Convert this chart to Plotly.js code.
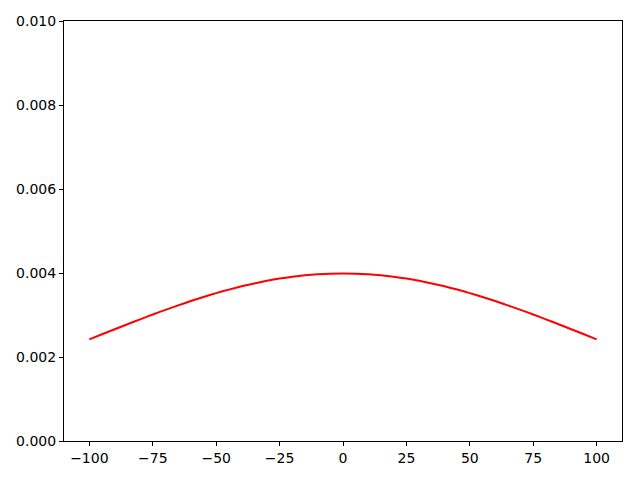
<!DOCTYPE html>
<html>
<head>
<meta charset="utf-8">
<script src="https://cdn.plot.ly/plotly-3.0.1.min.js"></script>
<style>html,body{margin:0;padding:0;background:#fff;}#chart{width:640px;height:480px;}</style>
</head>
<body>
<div id="chart"></div>
<script>
var xValues = [-100,-95,-90,-85,-80,-75,-70,-65,-60,-55,-50,-45,-40,-35,-30,-25,-20,-15,-10,-5,0,
               5,10,15,20,25,30,35,40,45,50,55,60,65,70,75,80,85,90,95,100];
var yValues = [0.002420,0.002541,0.002661,0.002780,0.002897,0.003011,0.003123,0.003230,0.003332,0.003429,0.003521,
               0.003605,0.003683,0.003752,0.003814,0.003867,0.003910,0.003945,0.003970,0.003984,0.003989,
               0.003984,0.003970,0.003945,0.003910,0.003867,0.003814,0.003752,0.003683,0.003605,0.003521,
               0.003429,0.003332,0.003230,0.003123,0.003011,0.002897,0.002780,0.002661,0.002541,0.002420];
var xTicks = [-100,-75,-50,-25,0,25,50,75,100];
var yTicks = [0,0.002,0.004,0.006,0.008,0.010];

var trace = {x: xValues, y: yValues, type: 'scatter', mode: 'lines',
  line: {color: 'red', width: 2, shape: 'spline', smoothing: 0.6}, hoverinfo: 'none'};

var axisCommon = {showline: true, mirror: true, linecolor: 'black', linewidth: 1,
  ticks: 'outside', ticklen: 4, tickwidth: 1, tickcolor: 'black', showgrid: false, zeroline: false,
  tickfont: {family: 'DejaVu Sans', size: 14, color: 'black'}};

var layout = {
  width: 640, height: 480,
  margin: {l: 64, r: 18, t: 21, b: 39, pad: 0},
  paper_bgcolor: 'white', plot_bgcolor: 'white',
  showlegend: false,
  xaxis: Object.assign({}, axisCommon, {range: [-110, 110], tickvals: xTicks}),
  yaxis: Object.assign({}, axisCommon, {range: [0, 0.01], tickvals: yTicks, tickformat: '.3f'})
};
Plotly.newPlot('chart', [trace], layout, {displayModeBar: false, staticPlot: true});
</script>
</body>
</html>
